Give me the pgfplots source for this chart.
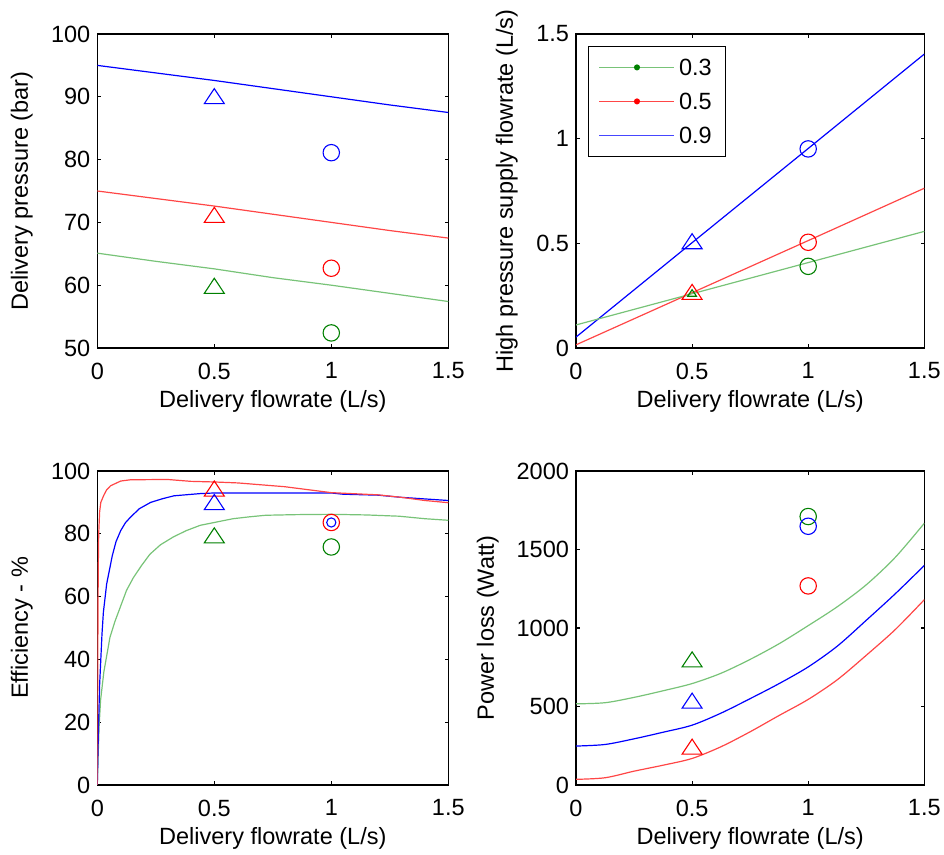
\documentclass[border=0pt]{standalone}
\usepackage{fontspec}
\setmainfont{Liberation Sans}
\usepackage{pgfplots}
\pgfplotsset{compat=1.18}
\definecolor{lgreen}{RGB}{120,195,120}
\definecolor{dgreen}{RGB}{0,128,0}
\definecolor{lred}{RGB}{255,70,70}
\definecolor{mblue}{RGB}{0,0,255}
\definecolor{lblue}{RGB}{70,70,255}
\definecolor{mred}{RGB}{255,0,0}
\newcommand{\fs}{\fontsize{11.75}{14}\selectfont}
\pgfplotsset{
 myax/.style={
  scale only axis, anchor=south west,
  xmin=0, xmax=1.5, xtick={0,0.5,1,1.5},
  tick align=inside, major tick length=1.8pt,
  axis line style={line width=0.6pt},
  every tick/.style={black, line width=0.6pt},
  tick label style={font=\fs},
  label style={font=\fs},
  xticklabel style={yshift=-3.8pt},
  /pgf/number format/assume math mode=true,
  scaled ticks=false,
  /pgf/number format/1000 sep={},
  xlabel={Delivery flowrate (L/s)},
  xlabel style={at={(axis description cs:0.5,-0.171)}, anchor=center},
 },
 ln/.style={line width=0.6pt, no markers, forget plot},
 tri/.style={only marks, forget plot, mark=triangle, mark size=5.77pt, mark options={solid, line width=0.55pt, yshift=-1.25pt, yscale=0.87}},
 stri/.style={only marks, forget plot, mark=triangle, mark size=2.5pt, mark options={solid, line width=0.55pt, yshift=-0.55pt, yscale=0.87}},
 cir/.style={only marks, forget plot, mark=o, mark size=4.1pt, mark options={solid, line width=0.55pt}},
 scir/.style={only marks, forget plot, mark=o, mark size=2.3pt, mark options={solid, line width=0.55pt}},
}
\begin{document}
\begin{tikzpicture}
\useasboundingbox (0,0) rectangle (472pt,427.5pt);

% ---------------- Top left: delivery pressure
\begin{axis}[myax, at={(48.65pt,253.5pt)}, width=175.5pt, height=157pt,
  ymin=50, ymax=100, ytick={50,60,70,80,90,100},
  ylabel={Delivery pressure (bar)},
  ylabel style={at={(axis description cs:-0.215,0.5)}, anchor=center}]
\addplot[ln, mblue] coordinates {(0,95) (0.25,93.8) (0.5,92.6) (0.75,91.3) (1,90) (1.25,88.7) (1.5,87.5)};
\addplot[ln, lred] coordinates {(0,75) (0.25,73.8) (0.5,72.6) (0.75,71.3) (1,70) (1.25,68.7) (1.5,67.5)};
\addplot[ln, lgreen] coordinates {(0,65.1) (0.25,63.8) (0.5,62.6) (0.75,61.2) (1,60) (1.25,58.7) (1.5,57.4)};
\addplot[tri, mblue] coordinates {(0.5,90.1)};
\addplot[tri, mred] coordinates {(0.5,71.2)};
\addplot[tri, dgreen] coordinates {(0.5,59.9)};
\addplot[cir, mblue] coordinates {(1,81.1)};
\addplot[cir, mred] coordinates {(1,62.7)};
\addplot[cir, dgreen] coordinates {(1,52.4)};
\end{axis}

% ---------------- Top right: HP supply flowrate
\begin{axis}[myax, at={(288pt,253.5pt)}, width=174.15pt, height=157pt,
  ymin=0, ymax=1.5, ytick={0,0.5,1,1.5},
  ylabel={High pressure supply flowrate (L/s)},
  ylabel style={at={(axis description cs:-0.199,0.5)}, anchor=center},
  legend style={at={(axis description cs:0.0353,0.963)}, anchor=north west,
    draw=black, line width=0.6pt, fill=white, font=\fs,
    inner xsep=5pt, inner ysep=4.5pt, row sep=4.8pt,
    nodes={inner sep=2pt, text depth=0pt}},
  legend cell align=left,
  legend image code/.code={\draw[mark repeat=2,mark phase=2] plot coordinates {(0pt,0pt) (18.75pt,0pt) (37.5pt,0pt)};}]
\addlegendimage{color=lgreen, line width=0.6pt, mark=*, mark size=1.2pt, mark options={draw=dgreen, fill=dgreen}}
\addlegendentry{0.3}
\addlegendimage{color=lred, line width=0.6pt, mark=*, mark size=1.2pt, mark options={draw=mred, fill=mred}}
\addlegendentry{0.5}
\addlegendimage{color=lblue, line width=0.6pt, no markers}
\addlegendentry{0.9}
\addplot[ln, mblue] coordinates {(0,0.052) (0.5,0.503) (1,0.953) (1.5,1.404)};
\addplot[ln, lred] coordinates {(0,0.015) (0.5,0.264) (1,0.513) (1.5,0.763)};
\addplot[ln, lgreen] coordinates {(0,0.11) (0.5,0.259) (1,0.408) (1.5,0.557)};
\addplot[tri, mblue] coordinates {(0.5,0.51)};
\addplot[tri, mred] coordinates {(0.5,0.268)};
\addplot[stri, dgreen] coordinates {(0.5,0.263)};
\addplot[cir, mblue] coordinates {(1,0.951)};
\addplot[cir, mred] coordinates {(1,0.505)};
\addplot[cir, dgreen] coordinates {(1,0.39)};
\end{axis}

% ---------------- Bottom left: efficiency
\begin{axis}[myax, at={(48.65pt,35pt)}, width=175.5pt, height=157pt,
  ymin=0, ymax=100, ytick={0,20,40,60,80,100},
  ylabel={Efficiency - \%},
  ylabel style={at={(axis description cs:-0.215,0.5)}, anchor=center}]
\addplot[ln, lgreen] coordinates {(0,0) (0.004,10) (0.008,19) (0.014,27) (0.028,36) (0.054,47) (0.075,52) (0.1,57) (0.125,62) (0.154,66) (0.19,70) (0.225,73.5) (0.27,76.5) (0.325,79) (0.38,81) (0.44,82.7) (0.5,83.6) (0.58,84.8) (0.65,85.4) (0.72,85.9) (0.85,86.1) (1.0,86.2) (1.15,86) (1.29,85.6) (1.4,84.8) (1.5,84.3)};
\addplot[ln, mblue] coordinates {(0,0) (0.005,18) (0.01,32) (0.015,40) (0.02,48) (0.026,55) (0.04,64) (0.064,73) (0.08,77.5) (0.1,81) (0.12,83.5) (0.142,85.3) (0.18,88) (0.228,90) (0.28,91.2) (0.328,92.1) (0.44,92.8) (0.5,93) (1.0,93) (1.05,92.6) (1.2,92.3) (1.3,91.6) (1.4,91.1) (1.5,90.6)};
\addplot[ln, lred] coordinates {(0,0) (0.002,40) (0.004,68) (0.006,80) (0.01,87) (0.015,90) (0.028,92.3) (0.04,94) (0.057,95.3) (0.1,96.8) (0.142,97.2) (0.3,97.3) (0.4,96.7) (0.5,96.5) (0.6,96.2) (0.8,95) (1.0,93.1) (1.2,92.4) (1.3,91.6) (1.4,90.6) (1.5,89.9)};
\addplot[tri, mred] coordinates {(0.5,94.4)};
\addplot[tri, mblue] coordinates {(0.5,90.1)};
\addplot[tri, dgreen] coordinates {(0.5,79.5)};
\addplot[cir, mred] coordinates {(1,83.6)};
\addplot[scir, mblue] coordinates {(1,83.6)};
\addplot[cir, dgreen] coordinates {(1,75.8)};
\end{axis}

% ---------------- Bottom right: power loss
\begin{axis}[myax, at={(288pt,35pt)}, width=174.15pt, height=157pt,
  ymin=0, ymax=2000, ytick={0,500,1000,1500,2000},
  ylabel={Power loss (Watt)},
  ylabel style={at={(axis description cs:-0.253,0.5)}, anchor=center}]
\addplot[ln, smooth, lgreen] coordinates {(0,517) (0.125,524) (0.25,558) (0.375,600) (0.5,646) (0.625,712) (0.75,800) (0.875,900) (1,1015) (1.125,1135) (1.25,1275) (1.375,1450) (1.5,1667)};
\addplot[ln, smooth, mblue] coordinates {(0,248) (0.125,258) (0.25,294) (0.375,336) (0.5,381) (0.625,458) (0.75,550) (0.875,646) (1,752) (1.125,884) (1.25,1049) (1.375,1218) (1.5,1398)};
\addplot[ln, smooth, lred] coordinates {(0,36) (0.125,46) (0.25,88) (0.375,126) (0.5,169) (0.625,244) (0.75,339) (0.875,443) (1,545) (1.125,670) (1.25,826) (1.375,990) (1.5,1180)};
\addplot[tri, dgreen] coordinates {(0.5,800)};
\addplot[tri, mblue] coordinates {(0.5,537)};
\addplot[tri, mred] coordinates {(0.5,244)};
\addplot[cir, dgreen] coordinates {(1,1710)};
\addplot[cir, mblue] coordinates {(1,1648)};
\addplot[cir, mred] coordinates {(1,1268)};
\end{axis}
\end{tikzpicture}
\end{document}
